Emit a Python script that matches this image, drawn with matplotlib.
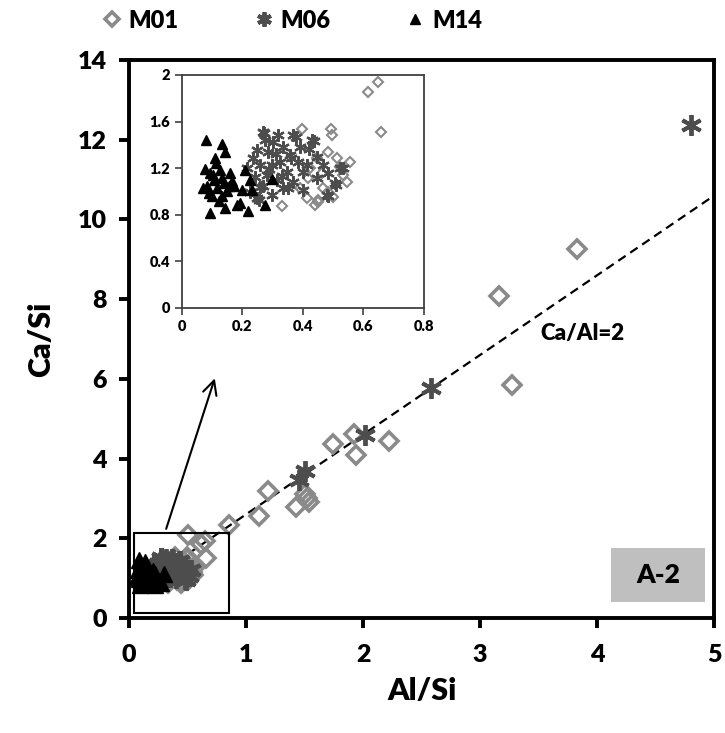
import numpy as np
import matplotlib
matplotlib.use("Agg")
import matplotlib.pyplot as plt
from matplotlib.patches import Rectangle

plt.rcParams['font.family'] = ['Lato', 'DejaVu Sans']
plt.rcParams['font.weight'] = 'heavy'
plt.rcParams['axes.labelweight'] = 'heavy'

# M01 (diamonds)
m01_x = [0.396, 0.492, 0.495, 0.66, 0.484, 0.556, 0.446, 0.424, 0.462, 0.534,
         0.545, 0.522, 0.418, 0.467, 0.50, 0.451, 0.413, 0.44, 0.33, 0.484,
         0.39, 0.512, 0.614, 0.65, 0.45,
         0.50, 0.85, 1.11, 1.19, 1.43, 1.50, 1.54, 1.52, 1.74, 1.925, 1.94,
         2.22, 3.16, 3.27, 3.83]
m01_y = [1.536, 1.536, 1.484, 1.513, 1.341, 1.255, 1.284, 1.198, 1.155, 1.141,
         1.083, 1.212, 1.112, 1.026, 0.954, 0.926, 0.94, 0.883, 0.877, 0.997,
         1.026, 1.284, 1.857, 1.94, 0.91,
         2.08, 2.34, 2.55, 3.19, 2.78, 3.10, 2.92, 3.00, 4.36, 4.61, 4.09,
         4.45, 8.08, 5.85, 9.27]

# M06 (asterisks)
m06_x = [0.269, 0.368, 0.429, 0.302, 0.39, 0.335, 0.248, 0.286, 0.236, 0.357,
         0.325, 0.258, 0.297, 0.385, 0.413, 0.467, 0.522, 0.347, 0.281, 0.242,
         0.314, 0.368, 0.446, 0.506, 0.258, 0.335, 0.225, 0.297, 0.401, 0.479,
         0.248, 0.446, 0.484, 0.215, 0.319, 0.275, 0.272, 0.378, 0.437, 0.533,
         0.511, 0.483, 0.256, 0.31, 0.36, 0.40, 0.27, 0.33, 0.42, 0.29, 0.35,
         1.455, 1.505, 2.02, 2.58, 4.80]
m06_y = [1.513, 1.484, 1.441, 1.427, 1.384, 1.384, 1.355, 1.341, 1.284, 1.312,
         1.255, 1.226, 1.226, 1.255, 1.226, 1.226, 1.198, 1.169, 1.141, 1.126,
         1.098, 1.083, 1.112, 1.069, 1.04, 1.026, 0.997, 0.969, 1.012, 0.969,
         0.94, 1.298, 1.155, 1.198, 1.484, 1.441, 1.50, 1.466, 1.43, 1.20,
         1.057, 0.957, 0.929, 1.32, 1.29, 1.17, 1.05, 1.13, 1.36, 1.19, 1.03,
         3.47, 3.69, 4.58, 5.76, 12.38]

# M14 (triangles)
m14_x = [0.081, 0.133, 0.142, 0.109, 0.114, 0.076, 0.094, 0.159, 0.208, 0.226,
         0.133, 0.106, 0.083, 0.117, 0.156, 0.174, 0.20, 0.233, 0.10, 0.133,
         0.15, 0.183, 0.194, 0.144, 0.219, 0.092, 0.274, 0.30, 0.122, 0.072,
         0.139, 0.167, 0.103, 0.089, 0.128]
m14_y = [1.443, 1.409, 1.334, 1.286, 1.243, 1.194, 1.157, 1.157, 1.186, 1.094,
         1.114, 1.10, 1.049, 1.029, 1.043, 1.049, 1.014, 1.009, 0.957, 0.957,
         1.0, 0.886, 0.90, 0.857, 0.829, 0.814, 0.88, 1.106, 0.914, 1.029,
         1.071, 1.086, 1.143, 0.986, 1.186]

# dashed trend line (Ca/Al=2)
trend_x = [0.1, 5.0]
trend_y = [0.8, 10.6]

fig = plt.figure(figsize=(7.25, 7.33), dpi=100)
ax = fig.add_axes([0.178, 0.157, 0.807, 0.761])

def draw(a, d_ms, d_mew, s_ms, s_mew, t_ms):
    a.plot(m01_x, m01_y, 'D', ms=d_ms, mfc='none', mec='#8a8a8a', mew=d_mew, label='M01', zorder=3)
    a.plot(m06_x, m06_y, marker=(6, 2, 0), ls='none', ms=s_ms, mec='#4d4d4d', mew=s_mew, label='M06', zorder=4)
    a.plot(m14_x, m14_y, '^', ms=t_ms, color='black', label='M14', zorder=5)

draw(ax, 9.5, 2.6, 15, 2.8, 11)
ax.plot(trend_x, trend_y, ls=(0, (4, 2.5)), color='black', lw=1.6, zorder=2)

ax.set_xlim(0, 5)
ax.set_ylim(0, 14)
ax.set_xticks(range(0, 6))
ax.set_yticks(range(0, 15, 2))
for sp in ax.spines.values():
    sp.set_linewidth(2.8)
ax.tick_params(direction='out', length=7, width=2.8, labelsize=18)
ax.tick_params(axis='x', pad=12)
ax.tick_params(axis='y', pad=9)
ax.set_xlabel('Al/Si', fontsize=22, fontweight='heavy', labelpad=8)
ax.set_ylabel('Ca/Si', fontsize=22, fontweight='heavy', labelpad=16)

# zoom box and arrow
ax.add_patch(Rectangle((0.04, 0.12), 0.81, 2.01, fill=False, ec='black', lw=1.5, zorder=6))
ax.annotate('', xy=(0.74, 6.08), xytext=(0.31, 2.17),
            arrowprops=dict(arrowstyle='->', color='black', lw=1.5, mutation_scale=25))

ax.text(3.875, 7.15, 'Ca/Al=2', fontsize=16, ha='center', va='center')
ax.add_patch(Rectangle((4.12, 0.40), 0.80, 1.36, fc='#bfbfbf', ec='none', zorder=1))
ax.text(4.52, 1.08, 'A-2', fontsize=19, ha='center', va='center')

handles, labels = ax.get_legend_handles_labels()
fig.legend(handles, labels, loc='center', bbox_to_anchor=(0.4, 0.972), ncol=3,
           frameon=False, fontsize=17, columnspacing=3.0, handletextpad=0.1,
           handlelength=1.2, markerscale=0.7)

# inset
ins = fig.add_axes([0.2506, 0.5802, 0.334, 0.3175])
draw(ins, 5, 1.5, 9, 1.6, 6.5)
ins.set_xlim(0, 0.8)
ins.set_ylim(0, 2)
ins.set_xticks([0, 0.2, 0.4, 0.6, 0.8])
ins.set_xticklabels(['0', '0.2', '0.4', '0.6', '0.8'])
ins.set_yticks([0, 0.4, 0.8, 1.2, 1.6, 2])
ins.set_yticklabels(['0', '0.4', '0.8', '1.2', '1.6', '2'])
for sp in ins.spines.values():
    sp.set_linewidth(1.3)
    sp.set_color('#404040')
ins.tick_params(direction='out', length=5, width=1.2, labelsize=10.5, colors='#404040', labelcolor='black')

fig.savefig('out.png', dpi=100)
